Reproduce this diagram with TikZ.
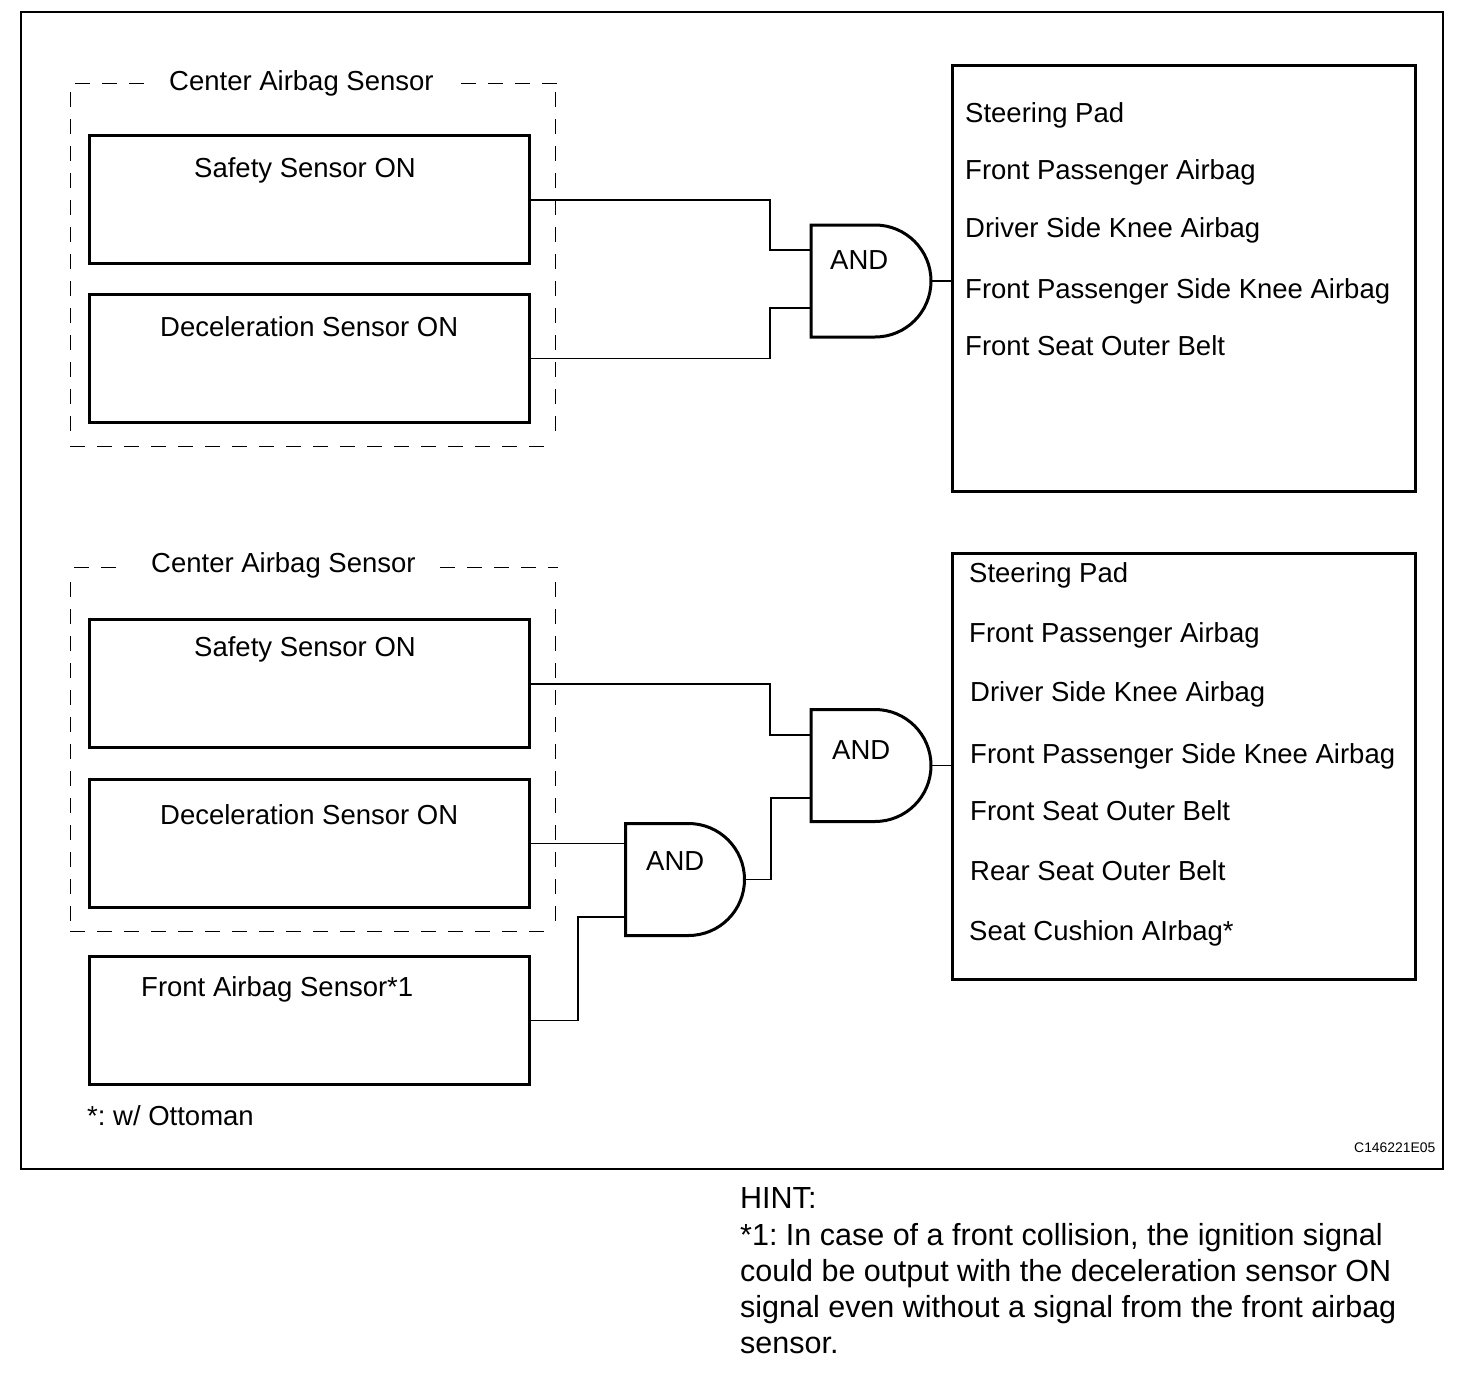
\documentclass[tikz,border=0pt]{standalone}
\usepackage{fontspec}
\setmainfont{Liberation Sans}
\frenchspacing
\begin{document}
\begin{tikzpicture}[x=1pt,y=-1pt,
  thickbox/.style={draw=black,line width=3pt,rectangle,inner sep=0pt,outer sep=0pt,minimum width=440pt,minimum height=128pt,anchor=north west},
  outbox/.style={draw=black,line width=3pt,rectangle,inner sep=0pt,outer sep=0pt,minimum width=463pt,minimum height=426pt,anchor=north west},
  frame/.style={draw=black,line width=2.6pt,rectangle,inner sep=0pt,outer sep=0pt,minimum width=1422pt,minimum height=1157pt,anchor=north west},
  group/.style={draw=black,line width=1pt,dash pattern=on 15pt off 12pt},
  wire/.style={draw=black,line width=1.7pt},
  gateline/.style={draw=black,line width=3pt,line join=miter},
  gatebox/.style={rectangle,inner sep=0pt,outer sep=0pt,minimum width=121pt,minimum height=112pt,anchor=north west},
  lbl/.style={font=\fontsize{27.5}{32}\selectfont,anchor=base west,inner sep=0pt},
  code/.style={font=\fontsize{13.9}{15}\selectfont,anchor=base west,inner sep=0pt},
  hint/.style={font=\fontsize{30.5}{36}\selectfont,anchor=base west,inner sep=0pt}]
\useasboundingbox (0,0) rectangle (1472,1376);
\fill[white] (0,0) rectangle (1472,1376);
\node[frame] (frm) at (21,12) {};
% groups
\draw[group] (144,83) -- (74,83);
\draw[group] (461,83) -- (558,83);
\draw[group] (70,92) -- (70,439);
\draw[group] (555,92) -- (555,439);
\draw[group] (70,446) -- (555,446);
\node[lbl] (t1) at (169,90) {Center Airbag Sensor};
\draw[group] (116,567) -- (74,567);
\draw[group] (440,567) -- (558,567);
\draw[group] (70,582) -- (70,924);
\draw[group] (555,582) -- (555,924);
\draw[group] (70,931) -- (555,931);
\node[lbl] (t2) at (151,572) {Center Airbag Sensor};
% sensor boxes
\node[thickbox] (s1) at (89,135.5) {};
\node[thickbox] (d1) at (89,294.5) {};
\node[thickbox] (s2) at (89,619.5) {};
\node[thickbox] (d2) at (89,779.5) {};
\node[thickbox] (f2) at (89,956.5) {};
\node[lbl] (s1t) at (194,177) {Safety Sensor ON};
\node[lbl] (d1t) at (160,336) {Deceleration Sensor ON};
\node[lbl] (s2t) at (194,656.5) {Safety Sensor ON};
\node[lbl] (d2t) at (160,824) {Deceleration Sensor ON};
\node[lbl] (f2t) at (141,996.5) {Front Airbag Sensor*1};
% output boxes
\node[outbox] (o1) at (952.5,65.5) {};
\node[outbox] (o2) at (952.5,553.5) {};
\node[lbl] at (965,122) {Steering Pad};
\node[lbl] at (965,179.5) {Front Passenger Airbag};
\node[lbl] at (965,237.5) {Driver Side Knee Airbag};
\node[lbl] at (965,298) {Front Passenger Side Knee Airbag};
\node[lbl] at (965,355) {Front Seat Outer Belt};
\node[lbl] at (969,582) {Steering Pad};
\node[lbl] at (969,642.5) {Front Passenger Airbag};
\node[lbl] at (970,701.5) {Driver Side Knee Airbag};
\node[lbl] at (970,763) {Front Passenger Side Knee Airbag};
\node[lbl] at (970,820) {Front Seat Outer Belt};
\node[lbl] at (970,880.5) {Rear Seat Outer Belt};
\node[lbl] at (969,940.5) {Seat Cushion AIrbag*};
% gates
\node[gatebox] (g1) at (811,225) {};
\node[gatebox] (g2) at (811,709.5) {};
\node[gatebox,minimum width=120pt] (g3) at (625.5,823.5) {};
\foreach \g in {g1,g2,g3}{
  \draw[gateline] (\g.north east) ++(-57,0) arc[start angle=90,end angle=-90,radius=56pt] -- (\g.south west) -- (\g.north west) -- cycle;
}
\node[lbl] at (830,269) {AND};
\node[lbl] at (832,759) {AND};
\node[lbl] at (646,870) {AND};
% connectors
\coordinate (g1a) at (811,250);
\coordinate (g1b) at (811,308);
\coordinate (j1a) at (770,250);
\coordinate (j1b) at (770,308);
\draw[wire] (s1.east) ++(0,0.5) -| (j1a) -- (g1a);
\draw[wire] (d1.east) -| (j1b) -- (g1b);
\draw[wire] (g1.east) -- (o1.west |- g1.east);
\coordinate (g2a) at (811,735);
\coordinate (g2b) at (811,798);
\coordinate (j2a) at (770,735);
\coordinate (j2b) at (771,798);
\draw[wire] (s2.east) ++(0,0.5) -| (j2a) -- (g2a);
\draw[wire] (g3.east) -| (j2b) -- (g2b);
\draw[wire] (g2.east) -- (o2.west |- g2.east);
\coordinate (g3b) at (625,917);
\coordinate (j3b) at (578,917);
\draw[wire] (d2.east) -- (g3.west |- d2.east);
\draw[wire] (f2.east) -| (j3b) -- (g3b);
% notes
\node[lbl] at (87,1125) {*: w/ Ottoman};
\node[code] at (1354,1152) {C146221E05};
\node[hint] at (740,1208) {HINT:};
\node[hint] at (740,1245) {*1: In case of a front collision, the ignition signal};
\node[hint] at (740,1281) {could be output with the deceleration sensor ON};
\node[hint] at (740,1317) {signal even without a signal from the front airbag};
\node[hint] at (740,1353) {sensor.};
\end{tikzpicture}
\end{document}
